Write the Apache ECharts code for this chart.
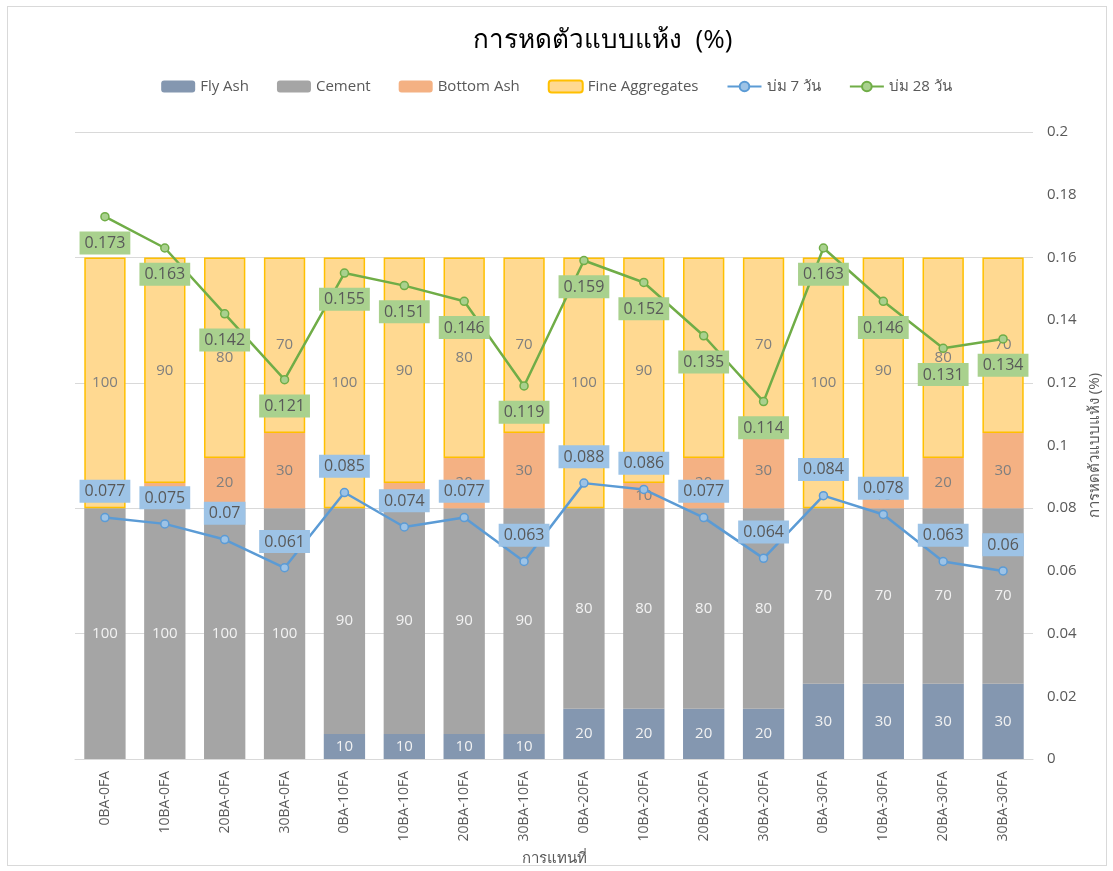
<!DOCTYPE html>
<html lang="th">
<head>
<meta charset="UTF-8">
<title>การหดตัวแบบแห้ง</title>
<script src="https://cdn.jsdelivr.net/npm/echarts@6/dist/echarts.min.js"></script>
<style>
  html, body { margin: 0; padding: 0; background: #fff; }
  #frame { position: absolute; left: 7px; top: 6px; width: 1100px; height: 860px; border: 1px solid #d9d9d9; box-sizing: border-box; }
  #chart { position: absolute; left: 0; top: 0; width: 1113px; height: 871px; }
</style>
</head>
<body>
<div id="frame"></div>
<div id="chart"></div>
<script>
var categories = ['0BA-0FA', '10BA-0FA', '20BA-0FA', '30BA-0FA',
  '0BA-10FA', '10BA-10FA', '20BA-10FA', '30BA-10FA',
  '0BA-20FA', '10BA-20FA', '20BA-20FA', '30BA-20FA',
  '0BA-30FA', '10BA-30FA', '20BA-30FA', '30BA-30FA']
var flyAsh = [0, 0, 0, 0, 10, 10, 10, 10, 20, 20, 20, 20, 30, 30, 30, 30]
var cement = [100, 100, 100, 100, 90, 90, 90, 90, 80, 80, 80, 80, 70, 70, 70, 70]
var bottomAsh = [0, 10, 20, 30, 0, 10, 20, 30, 0, 10, 20, 30, 0, 10, 20, 30]
var fineAgg = [100, 90, 80, 70, 100, 90, 80, 70, 100, 90, 80, 70, 100, 90, 80, 70]
var cure7 = [0.077, 0.075, 0.07, 0.061, 0.085, 0.074, 0.077, 0.063, 0.088, 0.086, 0.077, 0.064, 0.084, 0.078, 0.063, 0.06]
var cure28 = [0.173, 0.163, 0.142, 0.121, 0.155, 0.151, 0.146, 0.119, 0.159, 0.152, 0.135, 0.114, 0.163, 0.146, 0.131, 0.134]
var rightTicks = [0, 0.2, 0.02]

var font = '"Open Sans", "Noto Sans", sans-serif'
var chart = echarts.init(document.getElementById('chart'))

function barSeries(name, data, color, textColor, extra) {
  var s = {
    name: name,
    type: 'bar',
    stack: 'mix',
    barCategoryGap: '31%',
    data: data,
    itemStyle: { color: color },
    label: {
      show: true,
      color: textColor,
      fontSize: 15,
      fontFamily: font,
      formatter: function (p) { return p.value ? p.value : '' }
    }
  }
  if (extra) s.itemStyle = Object.assign(s.itemStyle, extra)
  return s
}

function lineSeries(name, data, color, bg, pos) {
  return {
    name: name,
    type: 'line',
    yAxisIndex: 1,
    data: data,
    symbol: 'circle',
    symbolSize: 8,
    z: 5,
    lineStyle: { color: color, width: 2.5 },
    itemStyle: { color: bg, borderColor: color, borderWidth: 1.5 },
    label: {
      show: true,
      position: pos,
      distance: 10,
      color: '#595959',
      fontSize: 16,
      fontFamily: font,
      backgroundColor: bg,
      padding: [4, 5, 3, 5]
    }
  }
}

var options = {
  animation: false,
  title: {
    text: 'การหดตัวแบบแห้ง  (%)',
    left: 468,
    top: 23,
    textStyle: { fontSize: 26, fontWeight: 'normal', color: '#000', fontFamily: font }
  },
  legend: {
    top: 74,
    left: 'center',
    itemWidth: 34,
    itemHeight: 12,
    itemGap: 28,
    textStyle: { fontSize: 15, color: '#595959', fontFamily: font },
    data: ['Fly Ash', 'Cement', 'Bottom Ash', 'Fine Aggregates', 'บ่ม 7 วัน', 'บ่ม 28 วัน']
  },
  grid: { left: 75, right: 80, top: 132, bottom: 109 },
  xAxis: {
    type: 'category',
    data: categories,
    name: 'การแทนที่',
    nameLocation: 'middle',
    nameGap: 92,
    nameTextStyle: { fontSize: 15, color: '#595959', fontFamily: font },
    axisLine: { lineStyle: { color: '#d9d9d9' } },
    axisTick: { show: false },
    axisLabel: { rotate: 90, fontSize: 14, color: '#595959', fontFamily: font, margin: 12 }
  },
  yAxis: [{
    type: 'value',
    min: 0,
    max: 250,
    interval: 50,
    axisLabel: { show: false },
    axisLine: { show: false },
    axisTick: { show: false },
    splitLine: { lineStyle: { color: '#d9d9d9', width: 1 } }
  }, {
    type: 'value',
    position: 'right',
    min: rightTicks[0],
    max: rightTicks[1],
    interval: rightTicks[2],
    name: 'การหดตัวแบบแห้ง (%)',
    nameLocation: 'middle',
    nameRotate: 90,
    nameGap: 54,
    nameTextStyle: { fontSize: 15, color: '#595959', fontFamily: font },
    axisLabel: { fontSize: 15, color: '#595959', fontFamily: font, margin: 14 },
    axisLine: { show: false },
    axisTick: { show: false },
    splitLine: { show: false }
  }],
  series: [
    barSeries('Fly Ash', flyAsh, '#8497b0', '#f2f2f2'),
    barSeries('Cement', cement, '#a5a5a5', '#f2f2f2'),
    barSeries('Bottom Ash', bottomAsh, '#f4b183', '#7f7f7f'),
    barSeries('Fine Aggregates', fineAgg, '#ffd991', '#7f7f7f', { borderColor: '#ffc000', borderWidth: 1.5 }),
    lineSeries('บ่ม 7 วัน', cure7, '#5b9bd5', '#9dc3e6', 'top'),
    lineSeries('บ่ม 28 วัน', cure28, '#70ad47', '#a9d18e', 'bottom')
  ]
}
chart.setOption(options)
</script>
</body>
</html>
